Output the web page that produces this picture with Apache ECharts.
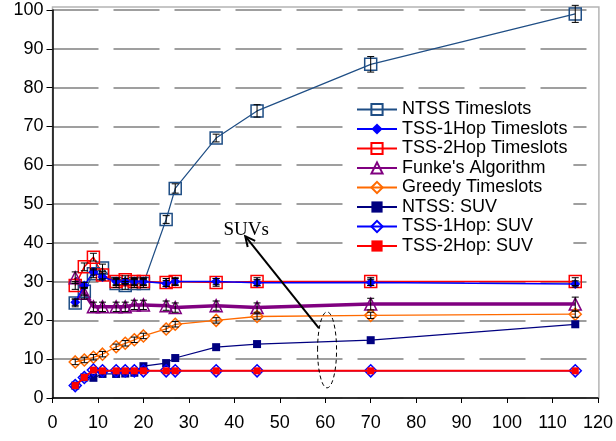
<!DOCTYPE html>
<html>
<head>
<meta charset="utf-8">
<script src="https://cdn.jsdelivr.net/npm/echarts@6/dist/echarts.min.js"></script>
<style>
  html, body { margin: 0; padding: 0; background: #fff; }
  #container { width: 616px; height: 441px; }
</style>
</head>
<body>
<div id="container"></div>
<script>
// x positions (number of nodes)
let xValues = [5, 7, 9, 11, 14, 16, 18, 20, 25, 27, 36, 45, 70, 115];

// timeslots
let ntssSlots   = [24.5, 27.5, 32, 33.5, 29.5, 29, 29.5, 29.5, 46, 54, 67, 74, 86, 99];
let tss1Slots   = [24.7, 29, 32.5, 31.2, 30, 30, 30, 30, 29.5, 30, 30, 29.7, 29.8, 29.4];
let tss2Slots   = [29, 33.8, 36.3, 31.7, 30, 30.5, 30, 30, 29.8, 30, 29.8, 30, 30, 30];
let funkeSlots  = [31, 27, 23.5, 23.5, 23.5, 23.5, 24, 24, 23.8, 23.3, 23.8, 23.3, 24.2, 24.2];
let greedySlots = [9.3, 9.8, 10.5, 11.3, 13.2, 14.1, 15, 16, 17.8, 19, 20, 21, 21.3, 21.6];

// SUV
let ntssSuv = [3.2, 5.3, 5.2, 6.2, 6.2, 6.3, 6.5, 8.2, 9, 10.3, 13.1, 13.9, 14.9, 19];
let tss1Suv = [3.2, 5.3, 7.2, 7, 7, 7, 7, 7, 7, 7, 7, 7, 7, 7];
let tss2Suv = [3.2, 5.3, 7.2, 7, 7, 7, 7, 7, 7, 7, 7, 7, 7, 7];

// error bar half-heights
let ntssErr   = [1, 1, 1, 1, 1, 1, 1, 1, 1, 1.2, 1, 1.6, 2, 2.2];
let tss1Err   = [0.8, 0.8, 0.8, 0.8, 0.8, 0.8, 0.8, 0.8, 0.8, 0.8, 0.8, 0.8, 0.8, 0.8];
let tss2Err   = [1, 1, 1, 1, 1, 1, 1, 1, 1, 1, 1, 1, 1, 1];
let funkeErr  = [1.5, 1.5, 1.2, 1.2, 1.2, 1.2, 1.2, 1.2, 1.2, 1.2, 1.2, 1.2, 1.5, 1.8];
let greedyErr = [0.7, 0.7, 0.7, 0.7, 0.7, 0.7, 0.7, 0.7, 0.7, 0.7, 0.7, 0.7, 0.8, 0.8];

let legendNames = ['NTSS Timeslots', 'TSS-1Hop Timeslots', 'TSS-2Hop Timeslots', "Funke's Algorithm",
    'Greedy Timeslots', 'NTSS: SUV', 'TSS-1Hop: SUV', 'TSS-2Hop: SUV'];

function pairs(ys) {
    return xValues.map(function (x, i) { return [x, ys[i]]; });
}

function lineSeries(name, ys, color, symbol, size, hollow, width, z) {
    return {
        name: name,
        type: 'line',
        data: pairs(ys),
        symbol: symbol,
        symbolSize: size,
        z: z,
        lineStyle: { color: color, width: width },
        itemStyle: hollow
            ? { color: 'rgba(255,255,255,0)', borderColor: color, borderWidth: 1.5 }
            : { color: color, borderColor: color, borderWidth: 0 },
        emphasis: { disabled: true },
        animation: false
    };
}

function errorSeries(ys, errs) {
    return {
        type: 'custom',
        silent: true,
        z: 10,
        animation: false,
        data: xValues.map(function (x, i) { return [x, ys[i], errs[i]]; }),
        renderItem: function (params, api) {
            let x = api.value(0), y = api.value(1), e = api.value(2);
            let hi = api.coord([x, y + e]);
            let lo = api.coord([x, y - e]);
            let w = 3.5;
            let style = { stroke: '#000', lineWidth: 1 };
            return {
                type: 'group',
                children: [
                    { type: 'line', shape: { x1: hi[0], y1: hi[1], x2: lo[0], y2: lo[1] }, style: style },
                    { type: 'line', shape: { x1: hi[0] - w, y1: hi[1], x2: hi[0] + w, y2: hi[1] }, style: style },
                    { type: 'line', shape: { x1: lo[0] - w, y1: lo[1], x2: lo[0] + w, y2: lo[1] }, style: style }
                ]
            };
        }
    };
}

let dom = document.getElementById('container');
let myChart = echarts.init(dom, null, { renderer: 'canvas' });
let font = 'Liberation Sans';

let option = {
    backgroundColor: '#fff',
    animation: false,
    grid: { left: 52.5, right: 16, top: 10, bottom: 43 },
    legend: {
        data: legendNames,
        orient: 'vertical',
        left: 345,
        top: 97,
        padding: [3, 6, 3, 11],
        itemGap: 0.5,
        itemWidth: 40,
        itemHeight: 14,
        backgroundColor: '#fff',
        selectedMode: false,
        textStyle: { fontFamily: font, fontSize: 18, color: '#000', lineHeight: 19 }
    },
    xAxis: {
        type: 'value',
        min: 0,
        max: 120,
        interval: 10,
        axisLine: { lineStyle: { color: '#000', width: 1.5 } },
        axisTick: { show: true, length: 5, lineStyle: { color: '#000' } },
        axisLabel: { fontFamily: font, fontSize: 18, color: '#000', margin: 16 },
        splitLine: { show: false }
    },
    yAxis: {
        type: 'value',
        min: 0,
        max: 100,
        interval: 10,
        axisLine: { show: true, lineStyle: { color: '#000', width: 1.5 } },
        axisTick: { show: true, length: 6, lineStyle: { color: '#000' } },
        axisLabel: { fontFamily: font, fontSize: 18, color: '#000', margin: 9 },
        splitLine: { show: true, lineStyle: { color: '#808080', width: 1.5, type: [46, 15] } }
    },
    series: [
        lineSeries('NTSS Timeslots', ntssSlots, '#1f4e85', 'rect', 12, true, 1.2, 3),
        lineSeries('TSS-1Hop Timeslots', tss1Slots, '#0000ff', 'diamond', 10, false, 1.5, 4),
        lineSeries('TSS-2Hop Timeslots', tss2Slots, '#ff0000', 'rect', 12, true, 1.5, 3),
        lineSeries("Funke's Algorithm", funkeSlots, '#800080', 'triangle', 12, true, 3.5, 3),
        lineSeries('Greedy Timeslots', greedySlots, '#ff6a00', 'diamond', 12, true, 1.3, 3),
        lineSeries('NTSS: SUV', ntssSuv, '#000080', 'rect', 8, false, 1.2, 3),
        lineSeries('TSS-1Hop: SUV', tss1Suv, '#0000ff', 'diamond', 12, true, 1.5, 4),
        lineSeries('TSS-2Hop: SUV', tss2Suv, '#ff0000', 'rect', 7, false, 2, 5),
        errorSeries(ntssSlots, ntssErr),
        errorSeries(tss1Slots, tss1Err),
        errorSeries(tss2Slots, tss2Err),
        errorSeries(funkeSlots, funkeErr),
        errorSeries(greedySlots, greedyErr)
    ]
};

if (option && typeof option === 'object') {
    myChart.setOption(option, true);

    // annotation: plot frame, "SUVs" label, arrow and dashed ellipse
    let p = function (x, y) { return myChart.convertToPixel({ gridIndex: 0 }, [x, y]); };
    let tl = p(0, 100.8), br = p(120.2, 0);
    let tail = p(58.6, 18.0), tip = p(42.4, 41.7);
    let dx = tip[0] - tail[0], dy = tip[1] - tail[1];
    let len = Math.sqrt(dx * dx + dy * dy);
    let ux = dx / len, uy = dy / len;
    let head = 11, spread = 0.45;
    let h1 = [tip[0] - head * (ux * Math.cos(spread) - uy * Math.sin(spread)),
              tip[1] - head * (uy * Math.cos(spread) + ux * Math.sin(spread))];
    let h2 = [tip[0] - head * (ux * Math.cos(-spread) - uy * Math.sin(-spread)),
              tip[1] - head * (uy * Math.cos(-spread) + ux * Math.sin(-spread))];
    let ec = p(60.4, 12.4);
    let lbl = p(42.6, 43.2);

    myChart.setOption({
        graphic: [
            { type: 'rect', z: 0, silent: true,
              shape: { x: tl[0], y: tl[1], width: br[0] - tl[0], height: br[1] - tl[1] },
              style: { fill: 'none', stroke: '#b4b4b4', lineWidth: 1.5 } },
            { type: 'line', z: 20, silent: true,
              shape: { x1: tail[0], y1: tail[1], x2: tip[0], y2: tip[1] },
              style: { stroke: '#000', lineWidth: 2 } },
            { type: 'polyline', z: 20, silent: true,
              shape: { points: [h1, tip, h2] },
              style: { stroke: '#000', lineWidth: 2, fill: 'none' } },
            { type: 'ellipse', z: 20, silent: true,
              shape: { cx: ec[0], cy: ec[1], rx: 9.5, ry: 38 },
              style: { stroke: '#000', lineWidth: 1, fill: 'none', lineDash: [4, 3] } },
            { type: 'text', z: 19, silent: true, x: lbl[0], y: lbl[1],
              style: { text: 'SUVs', font: '19px "Liberation Serif"', fill: '#000',
                       align: 'center', verticalAlign: 'middle' } }
        ]
    });
}
</script>
</body>
</html>
